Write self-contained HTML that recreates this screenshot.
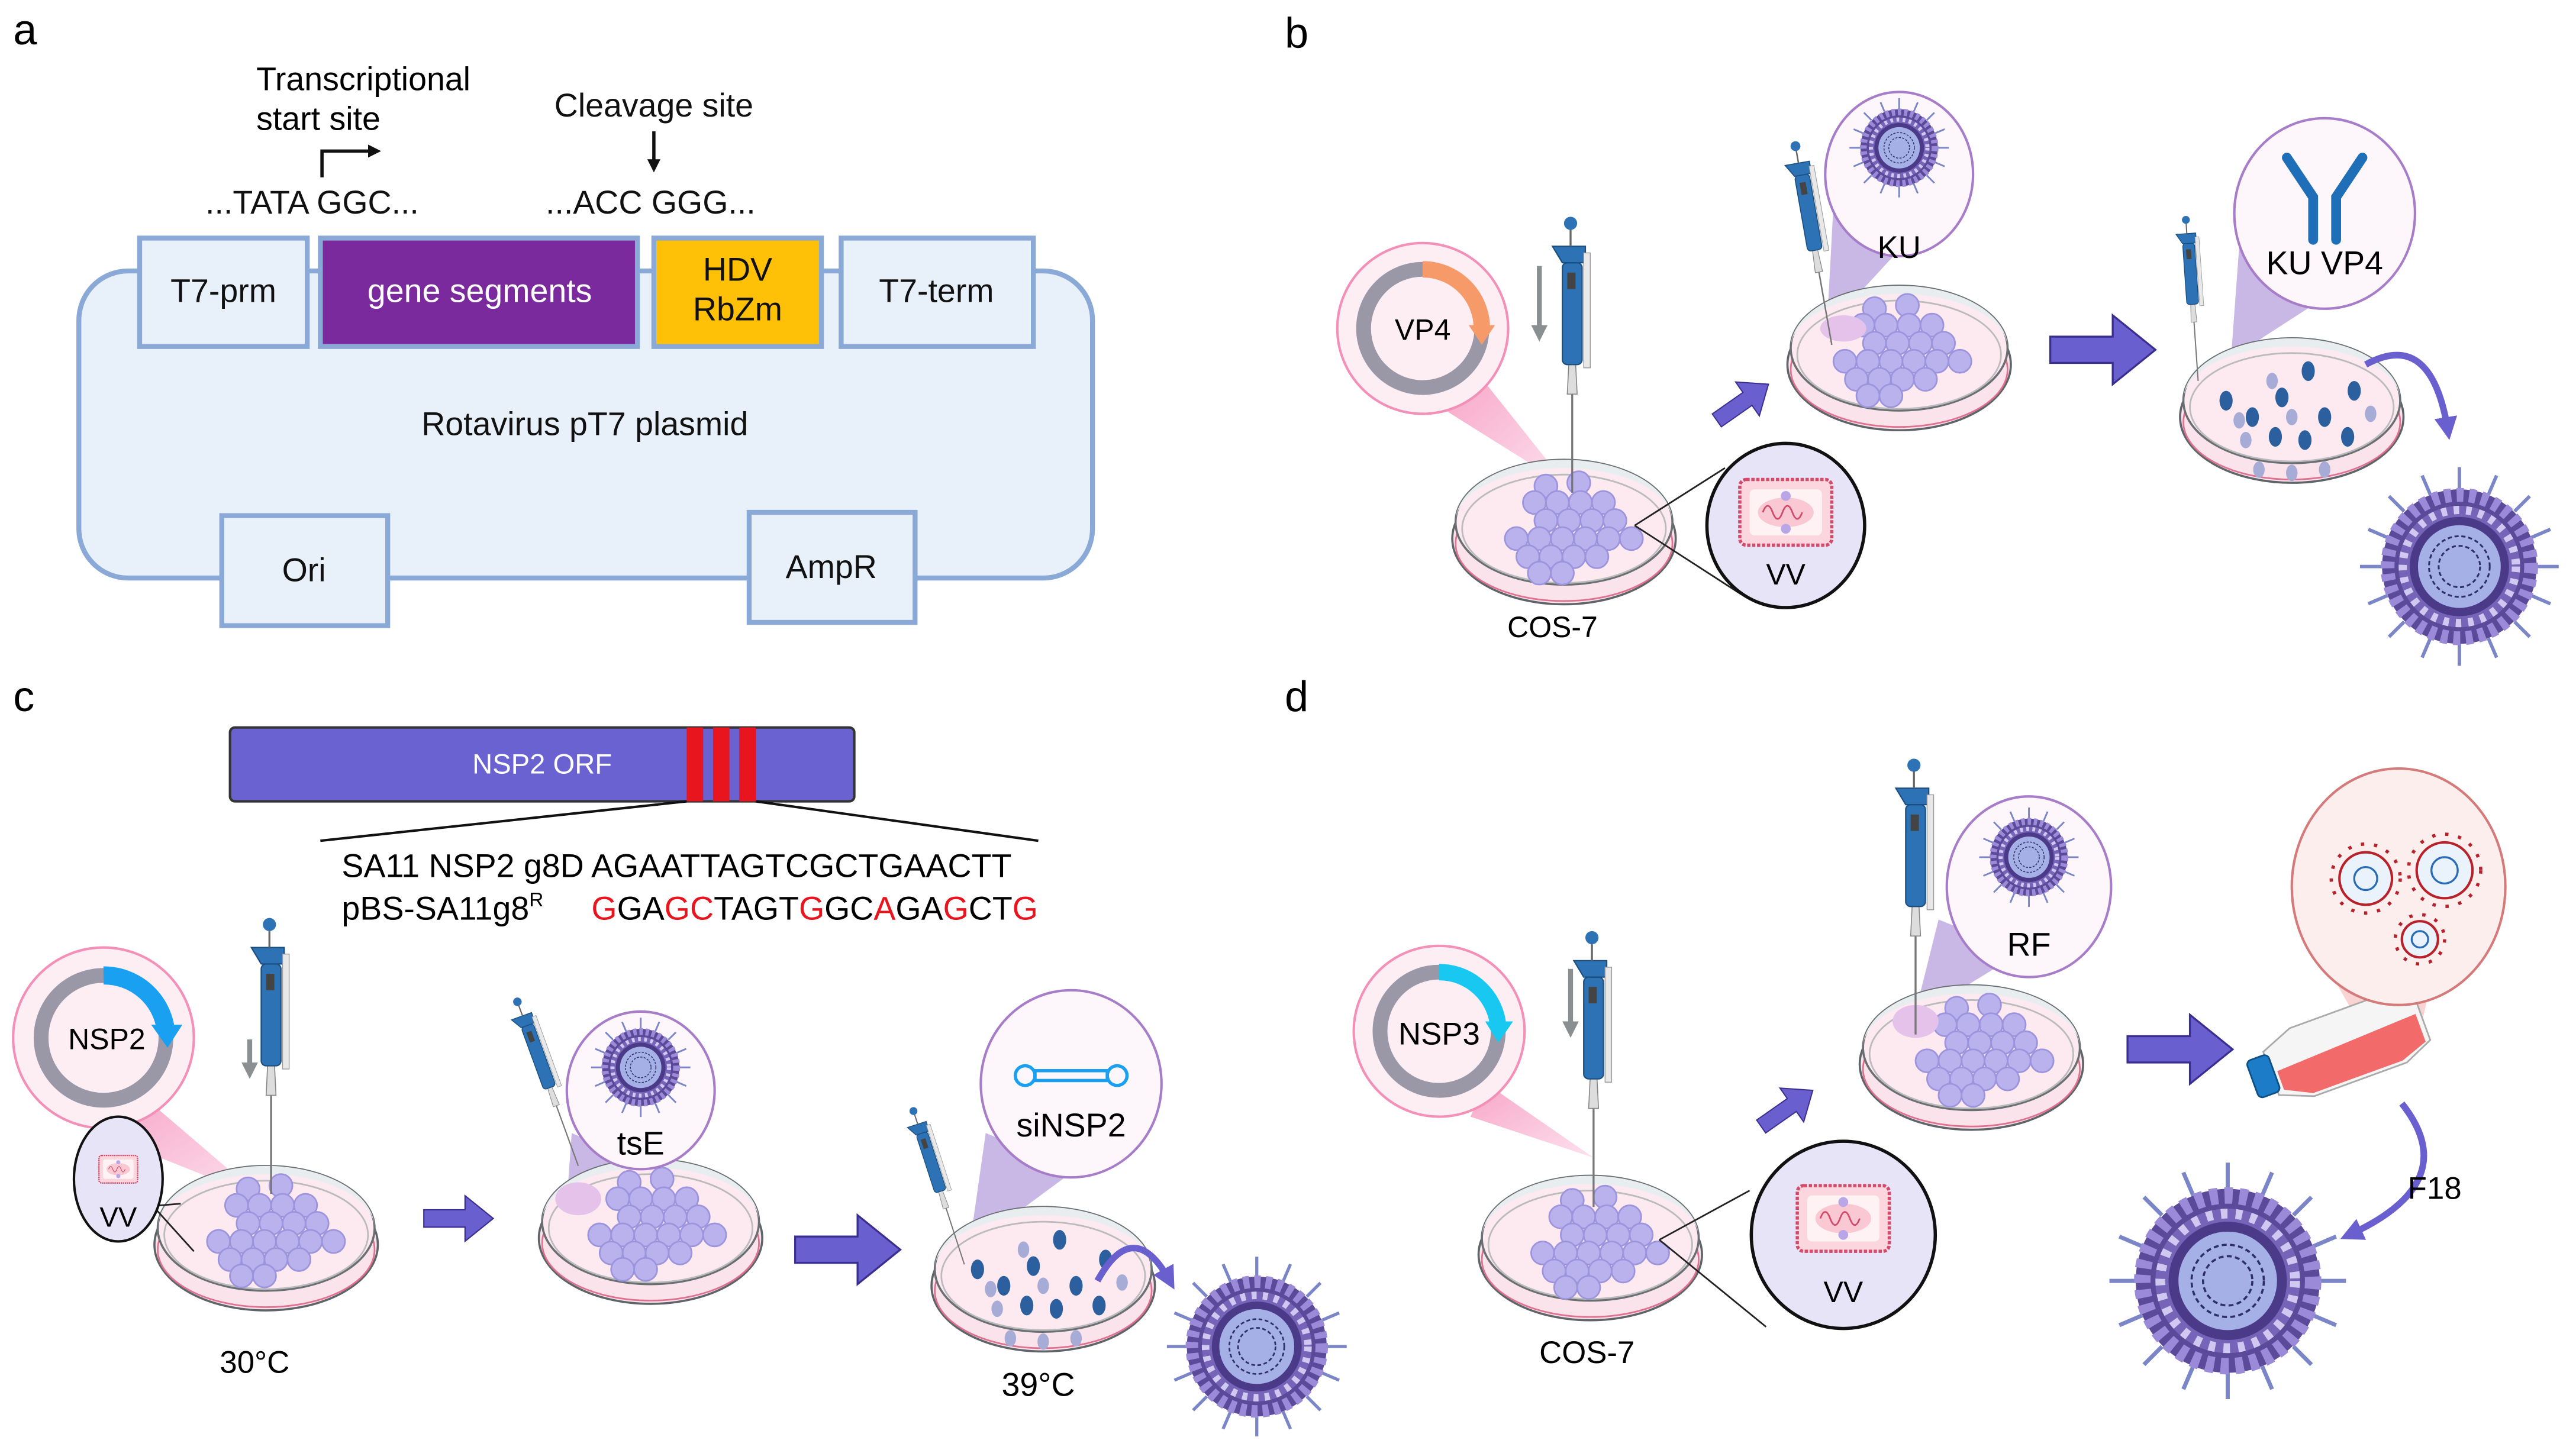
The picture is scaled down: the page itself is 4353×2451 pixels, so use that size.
<!DOCTYPE html>
<html><head><meta charset="utf-8"><style>
html,body{margin:0;padding:0;background:#fff;}
svg{display:block;font-family:"Liberation Sans",Arial,sans-serif;}
</style></head><body>
<svg width="4353" height="2451" viewBox="0 0 1568 883" preserveAspectRatio="none" xmlns="http://www.w3.org/2000/svg">
<defs>
  <marker id="ah" markerWidth="8" markerHeight="8" refX="6" refY="4" orient="auto" markerUnits="userSpaceOnUse"><path d="M0,0 L8,4 L0,8 Z" fill="#111"/></marker>
  <marker id="ahp" markerWidth="14" markerHeight="14" refX="8" refY="7" orient="auto" markerUnits="userSpaceOnUse"><path d="M0,0 L14,7 L0,14 Z" fill="#6a5fcf"/></marker>
  <marker id="ahg" markerWidth="10" markerHeight="10" refX="5" refY="5" orient="auto" markerUnits="userSpaceOnUse"><path d="M0,0 L10,5 L0,10 Z" fill="#8a8f92"/></marker>
  <linearGradient id="pinkcone" x1="0" y1="0" x2="1" y2="1"><stop offset="0" stop-color="#f7a6c8"/><stop offset="1" stop-color="#fde1ee"/></linearGradient>
  <g id="cells" fill="#b9b2ec" stroke="#9d94de" stroke-width="1">
    <circle cx="-25" cy="-22" r="7"/><circle cx="-5" cy="-24" r="7"/><circle cx="-32" cy="-12" r="7"/><circle cx="-18" cy="-12" r="7"/><circle cx="-4" cy="-12" r="7"/><circle cx="10" cy="-12" r="7"/>
    <circle cx="-25" cy="-1" r="7"/><circle cx="-11" cy="-1" r="7"/><circle cx="3" cy="-1" r="7"/><circle cx="17" cy="-1" r="7"/><circle cx="-43" cy="10" r="7"/><circle cx="-29" cy="10" r="7"/><circle cx="-15" cy="10" r="7"/><circle cx="-1" cy="10" r="7"/><circle cx="13" cy="10" r="7"/><circle cx="27" cy="10" r="7"/>
    <circle cx="-36" cy="21" r="7"/><circle cx="-22" cy="21" r="7"/><circle cx="-8" cy="21" r="7"/><circle cx="6" cy="21" r="7"/><circle cx="-29" cy="31" r="7"/><circle cx="-15" cy="31" r="7"/>
  </g>
  <g id="dish">
    <ellipse cx="0" cy="6" rx="68" ry="40" fill="#fbe3ec" stroke="#5f6468" stroke-width="1.3"/>
    <ellipse cx="0" cy="9" rx="66" ry="35" fill="none" stroke="#e07090" stroke-width="1"/>
    <ellipse cx="0" cy="-4" rx="66" ry="38" fill="#fde9f0" stroke="#6a6f72" stroke-width="1.3"/>
    <path d="M-66,-4 A66,38 0 0 1 66,-4 A64,32 0 0 0 -66,-4Z" fill="#e8eef0"/>
    <ellipse cx="0" cy="0" rx="62" ry="33" fill="none" stroke="#bbb" stroke-width="1"/>
  </g>
  <g id="pip">
    <line x1="0" y1="0" x2="0" y2="-60" stroke="#777" stroke-width="1.2"/>
    <path d="M-3,-60 L3,-60 L2,-80 L-2,-80Z" fill="#ddd" stroke="#888" stroke-width="0.6"/>
    <rect x="-6" y="-140" width="12" height="62" rx="3" fill="#2d72b5" stroke="#1b4f80" stroke-width="0.8"/>
    <rect x="-3" y="-134" width="5" height="10" fill="#444"/>
    <path d="M-12,-150 L8,-150 L8,-140 L-6,-140Z" fill="#2d72b5" stroke="#1b4f80" stroke-width="0.8"/>
    <rect x="7" y="-146" width="4" height="70" fill="#e8e8e8" stroke="#999" stroke-width="0.5"/>
    <line x1="-1" y1="-150" x2="-1" y2="-162" stroke="#666" stroke-width="1.2"/>
    <circle cx="-1" cy="-164" r="4" fill="#2d72b5"/>
  </g>
  <g id="virus">
    <g stroke="#7a86c8" stroke-width="2.5" fill="none">
      <path d="M0,-56 V-72 M0,56 V72 M-56,0 H-72 M56,0 H72 M40,-40 L51,-51 M-40,-40 L-51,-51 M40,40 L51,51 M-40,40 L-51,51 M21,-52 L27,-66 M-21,-52 L-27,-66 M21,52 L27,66 M-21,52 L-27,66 M52,21 L66,27 M-52,21 L-66,27 M52,-21 L66,-27 M-52,-21 L-66,-27"/>
    </g>
    <circle r="56" fill="#5b4a9a"/>
    <circle r="52" fill="none" stroke="#9b8ad8" stroke-width="10" stroke-dasharray="5 4"/>
    <circle r="44" fill="#7564b8"/>
    <circle r="41" fill="none" stroke="#cfc8f0" stroke-width="6" stroke-dasharray="4 5"/>
    <circle r="36" fill="#4a3a88"/>
    <circle r="30" fill="#a5b0e6"/>
    <circle r="22" fill="none" stroke="#2e2f6a" stroke-width="1.3" stroke-dasharray="3 2"/>
    <circle r="15" fill="none" stroke="#2e2f6a" stroke-width="1.3" stroke-dasharray="3 2"/>
  </g>
  <g id="bigarrow"><path d="M0,-8 L38,-8 L38,-21 L64,0 L38,21 L38,8 L0,8Z" fill="#6a5fcf" stroke="#3a2f90" stroke-width="1.2"/></g>
  <g id="infdish">
    <use href="#dish"/>
    <g fill="#2c5f9e"><ellipse cx="-40" cy="-4" rx="4" ry="6"/><ellipse cx="-24" cy="6" rx="4" ry="6"/><ellipse cx="-6" cy="-6" rx="4" ry="6"/><ellipse cx="10" cy="-22" rx="4" ry="6"/><ellipse cx="20" cy="6" rx="4" ry="6"/><ellipse cx="38" cy="-10" rx="4" ry="6"/><ellipse cx="-10" cy="18" rx="4" ry="6"/><ellipse cx="8" cy="20" rx="4" ry="6"/><ellipse cx="34" cy="18" rx="4" ry="6"/></g>
    <g fill="#a7acd6"><ellipse cx="-32" cy="8" rx="3.5" ry="5"/><ellipse cx="-12" cy="-16" rx="3.5" ry="5"/><ellipse cx="0" cy="6" rx="3.5" ry="5"/><ellipse cx="48" cy="4" rx="3.5" ry="5"/><ellipse cx="-28" cy="20" rx="3.5" ry="5"/><ellipse cx="-20" cy="38" rx="3.5" ry="5"/><ellipse cx="0" cy="40" rx="3.5" ry="5"/><ellipse cx="20" cy="38" rx="3.5" ry="5"/></g>
  </g>
  <g id="vvcell">
    <rect x="-28" y="-20" width="56" height="40" rx="4" fill="#fbd6df" stroke="#d44a6a" stroke-width="2" stroke-dasharray="2 1"/>
    <rect x="-22" y="-14" width="44" height="28" rx="3" fill="#fff2f5"/>
    <ellipse cx="0" cy="0" rx="17" ry="9" fill="#f9c8d3"/>
    <path d="M-14,0 q3,-8 6,0 t6,0 t6,0 t6,0" fill="none" stroke="#d44a6a" stroke-width="1"/>
    <circle cx="0" cy="-10" r="3" fill="#b9a6e6"/><circle cx="0" cy="10" r="3" fill="#b9a6e6"/>
  </g>
</defs>

<!-- ============ PANEL A ============ -->
<text x="8" y="27" font-size="26">a</text>
<rect x="48" y="165" width="617" height="187" rx="30" fill="#e8f0fa" stroke="#8aa9d6" stroke-width="3"/>
<g stroke="#8aa9d6" stroke-width="3">
<rect x="85" y="145" width="102" height="66" fill="#e8f0fa"/>
<rect x="195" y="145" width="193" height="66" fill="#7b2a9e"/>
<rect x="398" y="145" width="102" height="66" fill="#ffc107"/>
<rect x="512" y="145" width="117" height="66" fill="#e8f0fa"/>
<rect x="135" y="314" width="101" height="67" fill="#e8f0fa"/>
<rect x="456" y="312" width="101" height="67" fill="#e8f0fa"/>
</g>
<g font-size="20" text-anchor="middle" fill="#111">
<text x="136" y="184">T7-prm</text>
<text x="292" y="184" fill="#fff">gene segments</text>
<text x="449" y="171">HDV</text><text x="449" y="195">RbZm</text>
<text x="570" y="184">T7-term</text>
<text x="185" y="354">Ori</text>
<text x="506" y="352">AmpR</text>
<text x="356" y="265">Rotavirus pT7 plasmid</text>
<text x="190" y="130">...TATA GGC...</text>
<text x="396" y="130">...ACC GGG...</text>
<text x="398" y="71">Cleavage site</text>
</g>
<text x="156" y="55" font-size="20">Transcriptional</text>
<text x="156" y="79" font-size="20">start site</text>
<path d="M196,108 V92 H230" fill="none" stroke="#111" stroke-width="2" marker-end="url(#ah)"/>
<line x1="398" y1="80" x2="398" y2="103" stroke="#111" stroke-width="2" marker-end="url(#ah)"/>

<!-- ============ PANEL B ============ -->
<text x="782" y="29" font-size="26">b</text>
<polygon points="900,228 880,250 955,297" fill="url(#pinkcone)"/>
<circle cx="866" cy="200" r="52" fill="#fdeef4" stroke="#f48fb7" stroke-width="1.5"/>
<circle cx="866" cy="200" r="36" fill="none" stroke="#9a97a6" stroke-width="9"/>
<path d="M866,164 A36,36 0 0 1 902,200" fill="none" stroke="#f79a6a" stroke-width="10"/>
<polygon points="894,198 910,198 902,210" fill="#f79a6a"/>
<text x="866" y="207" font-size="18" text-anchor="middle">VP4</text>
<line x1="937" y1="162" x2="937" y2="203" stroke="#8a8f92" stroke-width="3" marker-end="url(#ahg)"/>
<use href="#dish" x="952" y="322"/>
<use href="#cells" x="966" y="318"/>
<use href="#pip" x="957" y="300"/>
<line x1="995" y1="320" x2="1050" y2="285" stroke="#222" stroke-width="1"/>
<line x1="995" y1="320" x2="1060" y2="362" stroke="#222" stroke-width="1"/>
<ellipse cx="1087" cy="320" rx="48" ry="50" fill="#e8e4f7" stroke="#111" stroke-width="2"/>
<use href="#vvcell" x="1087" y="312" />
<text x="1087" y="356" font-size="18" text-anchor="middle">VV</text>
<text x="945" y="388" font-size="18" text-anchor="middle">COS-7</text>
<g transform="translate(1045,256) rotate(-35) scale(0.6)"><use href="#bigarrow"/></g>
<polygon points="1116,125 1112,200 1158,150" fill="#c9b8e6"/>
<use href="#dish" x="1156" y="216"/>
<use href="#cells" x="1166" y="210"/>
<ellipse cx="1122" cy="200" rx="14" ry="8" fill="#e5c2ea"/>
<g transform="translate(1115,210) rotate(-10) scale(0.75)"><use href="#pip"/></g>
<ellipse cx="1156" cy="106" rx="45" ry="50" fill="#fdf7fb" stroke="#a77cc8" stroke-width="1.5"/>
<g transform="translate(1156,90) scale(0.42)"><use href="#virus"/></g>
<text x="1156" y="157" font-size="19" text-anchor="middle">KU</text>
<use href="#bigarrow" x="1248" y="213"/>
<polygon points="1363,150 1358,218 1420,178" fill="#c9b8e6"/>
<use href="#infdish" x="1395" y="248"/>
<g transform="translate(1338,232) rotate(-4) scale(0.6)"><use href="#pip"/></g>
<ellipse cx="1415" cy="130" rx="55" ry="58" fill="#fdf7fb" stroke="#a77cc8" stroke-width="1.5"/>
<g stroke="#1f6fb8" stroke-width="6" fill="none" stroke-linecap="round"><path d="M1392,96 L1408,120 V146 M1438,96 L1422,120 V146"/></g>
<text x="1415" y="167" font-size="20" text-anchor="middle">KU VP4</text>
<path d="M1440,222 Q1480,200 1490,262" fill="none" stroke="#6a5fcf" stroke-width="4" marker-end="url(#ahp)"/>
<g transform="translate(1497,345) scale(0.84)"><use href="#virus"/></g>

<!-- ============ PANEL C ============ -->
<text x="8" y="433" font-size="26">c</text>
<rect x="140" y="443" width="380" height="45" rx="3" fill="#6a62d0" stroke="#333" stroke-width="1.5"/>
<rect x="418" y="443" width="10" height="45" fill="#e8141e"/>
<rect x="434" y="443" width="10" height="45" fill="#e8141e"/>
<rect x="450" y="443" width="10" height="45" fill="#e8141e"/>
<text x="330" y="471" font-size="17" fill="#fff" text-anchor="middle">NSP2 ORF</text>
<line x1="418" y1="488" x2="195" y2="512" stroke="#111" stroke-width="1.5"/>
<line x1="460" y1="488" x2="632" y2="512" stroke="#111" stroke-width="1.5"/>
<text x="208" y="534" font-size="20">SA11 NSP2 g8D AGAATTAGTCGCTGAACTT</text>
<text x="208" y="560" font-size="20">pBS-SA11g8<tspan font-size="12" dy="-8">R</tspan><tspan dy="8" x="360" fill="#e8141e">G</tspan>GA<tspan fill="#e8141e">G</tspan><tspan fill="#e8141e">C</tspan>TAGT<tspan fill="#e8141e">G</tspan>GC<tspan fill="#e8141e">A</tspan>GA<tspan fill="#e8141e">G</tspan>CT<tspan fill="#e8141e">G</tspan></text>
<polygon points="90,670 60,690 160,730" fill="url(#pinkcone)"/>
<use href="#dish" x="162" y="752"/>
<use href="#cells" x="176" y="746"/>
<use href="#pip" x="165" y="727"/>
<line x1="152" y1="633" x2="152" y2="652" stroke="#8a8f92" stroke-width="3" marker-end="url(#ahg)"/>
<circle cx="63" cy="632" r="55" fill="#fdeef4" stroke="#f48fb7" stroke-width="1.5"/>
<circle cx="63" cy="632" r="38" fill="none" stroke="#9a97a6" stroke-width="9"/>
<path d="M63,594 A38,38 0 0 1 101,628" fill="none" stroke="#1aa0f0" stroke-width="11"/>
<polygon points="92,624 111,624 102,638" fill="#1aa0f0"/>
<text x="65" y="639" font-size="18" text-anchor="middle">NSP2</text>
<line x1="62" y1="700" x2="118" y2="762" stroke="#222" stroke-width="1"/>
<line x1="50" y1="738" x2="110" y2="733" stroke="#222" stroke-width="1"/>
<ellipse cx="72" cy="718" rx="27" ry="38" fill="#e8e4f7" stroke="#111" stroke-width="1.5"/>
<g transform="translate(72,712) scale(0.42)"><use href="#vvcell"/></g>
<text x="72" y="747" font-size="17" text-anchor="middle">VV</text>
<text x="155" y="836" font-size="19" text-anchor="middle">30°C</text>
<g transform="translate(258,742) scale(0.66)"><use href="#bigarrow"/></g>
<polygon points="348,690 343,760 395,710" fill="#c9b8e6"/>
<use href="#dish" x="396" y="748"/>
<use href="#cells" x="408" y="742"/>
<ellipse cx="352" cy="730" rx="14" ry="10" fill="#e5c2ea"/>
<g transform="translate(352,710) rotate(-20) scale(0.65)"><use href="#pip"/></g>
<ellipse cx="390" cy="664" rx="45" ry="48" fill="#fdf7fb" stroke="#a77cc8" stroke-width="1.5"/>
<g transform="translate(390,650) scale(0.42)"><use href="#virus"/></g>
<text x="390" y="703" font-size="20" text-anchor="middle">tsE</text>
<use href="#bigarrow" x="484" y="761"/>
<polygon points="600,690 590,760 655,712" fill="#c9b8e6"/>
<use href="#infdish" x="635" y="777"/>
<g transform="translate(587,770) rotate(-18) scale(0.6)"><use href="#pip"/></g>
<ellipse cx="652" cy="660" rx="55" ry="57" fill="#fdf7fb" stroke="#a77cc8" stroke-width="1.5"/>
<g fill="none" stroke="#1aa0f0" stroke-width="2"><circle cx="624" cy="655" r="6"/><circle cx="680" cy="655" r="6"/><rect x="630" y="652" width="44" height="6"/></g>
<text x="652" y="692" font-size="20" text-anchor="middle">siNSP2</text>
<text x="632" y="850" font-size="20" text-anchor="middle">39°C</text>
<path d="M668,780 Q690,740 712,780" fill="none" stroke="#6a5fcf" stroke-width="4" marker-end="url(#ahp)"/>
<g transform="translate(765,820) scale(0.76)"><use href="#virus"/></g>

<!-- ============ PANEL D ============ -->
<text x="782" y="433" font-size="26">d</text>
<polygon points="905,660 895,680 970,705" fill="url(#pinkcone)"/>
<circle cx="876" cy="628" r="52" fill="#fdeef4" stroke="#f48fb7" stroke-width="1.5"/>
<circle cx="876" cy="628" r="36" fill="none" stroke="#9a97a6" stroke-width="9"/>
<path d="M876,592 A36,36 0 0 1 912,626" fill="none" stroke="#19c8f0" stroke-width="10"/>
<polygon points="904,622 921,622 912,635" fill="#19c8f0"/>
<text x="876" y="636" font-size="19" text-anchor="middle">NSP3</text>
<line x1="956" y1="590" x2="956" y2="627" stroke="#8a8f92" stroke-width="3" marker-end="url(#ahg)"/>
<use href="#dish" x="968" y="758"/>
<use href="#cells" x="982" y="753"/>
<use href="#pip" x="970" y="735"/>
<line x1="1010" y1="755" x2="1065" y2="725" stroke="#222" stroke-width="1"/>
<line x1="1010" y1="755" x2="1075" y2="808" stroke="#222" stroke-width="1"/>
<ellipse cx="1122" cy="752" rx="56" ry="57" fill="#e8e4f7" stroke="#111" stroke-width="2"/>
<use href="#vvcell" x="1122" y="742"/>
<text x="1122" y="793" font-size="18" text-anchor="middle">VV</text>
<text x="966" y="830" font-size="19" text-anchor="middle">COS-7</text>
<g transform="translate(1072,686) rotate(-35) scale(0.6)"><use href="#bigarrow"/></g>
<polygon points="1180,560 1165,620 1230,580" fill="#c9b8e6"/>
<use href="#dish" x="1200" y="642"/>
<use href="#cells" x="1216" y="636"/>
<ellipse cx="1166" cy="622" rx="14" ry="10" fill="#e5c2ea"/>
<use href="#pip" x="1166" y="630"/>
<ellipse cx="1235" cy="540" rx="50" ry="55" fill="#fdf7fb" stroke="#a77cc8" stroke-width="1.5"/>
<g transform="translate(1235,522) scale(0.42)"><use href="#virus"/></g>
<text x="1235" y="582" font-size="20" text-anchor="middle">RF</text>
<use href="#bigarrow" x="1295" y="639"/>
<polygon points="1420,595 1488,565 1470,640 1440,630" fill="#f6b6b6" opacity="0.6"/>
<g transform="translate(1420,640) rotate(-20)">
  <path d="M-40,-14 L-20,-22 L40,-22 L58,-10 L58,14 L40,22 L-20,22 L-40,14Z" fill="#f5f5f5" stroke="#aaa" stroke-width="1"/>
  <path d="M-36,0 L55,-4 L55,14 L38,20 L-20,20 L-36,12Z" fill="#f26a6a"/>
  <rect x="-52" y="-12" width="14" height="24" rx="3" fill="#1d7cc7" stroke="#0e4f85"/>
</g>
<ellipse cx="1460" cy="540" rx="65" ry="72" fill="#fdeeee" stroke="#d57a7a" stroke-width="1.5"/>
<g fill="#eaf3fb" stroke="#b8202a" stroke-width="1.5"><circle cx="1440" cy="535" r="16"/><circle cx="1488" cy="530" r="17"/><circle cx="1473" cy="572" r="11"/></g>
<g fill="none" stroke="#2a6bb8" stroke-width="1.2"><circle cx="1440" cy="535" r="7"/><circle cx="1488" cy="530" r="8"/><circle cx="1473" cy="572" r="5"/></g>
<g stroke="#b8202a" stroke-width="2" stroke-dasharray="2 6" fill="none"><circle cx="1440" cy="535" r="21"/><circle cx="1488" cy="530" r="22"/><circle cx="1473" cy="572" r="15"/></g>
<path d="M1462,672 Q1500,720 1430,752" fill="none" stroke="#6a5fcf" stroke-width="4" marker-end="url(#ahp)"/>
<text x="1482" y="730" font-size="19" text-anchor="middle">F18</text>
<g transform="translate(1356,780) scale(1.0)"><use href="#virus"/></g>
</svg>
</body></html>
